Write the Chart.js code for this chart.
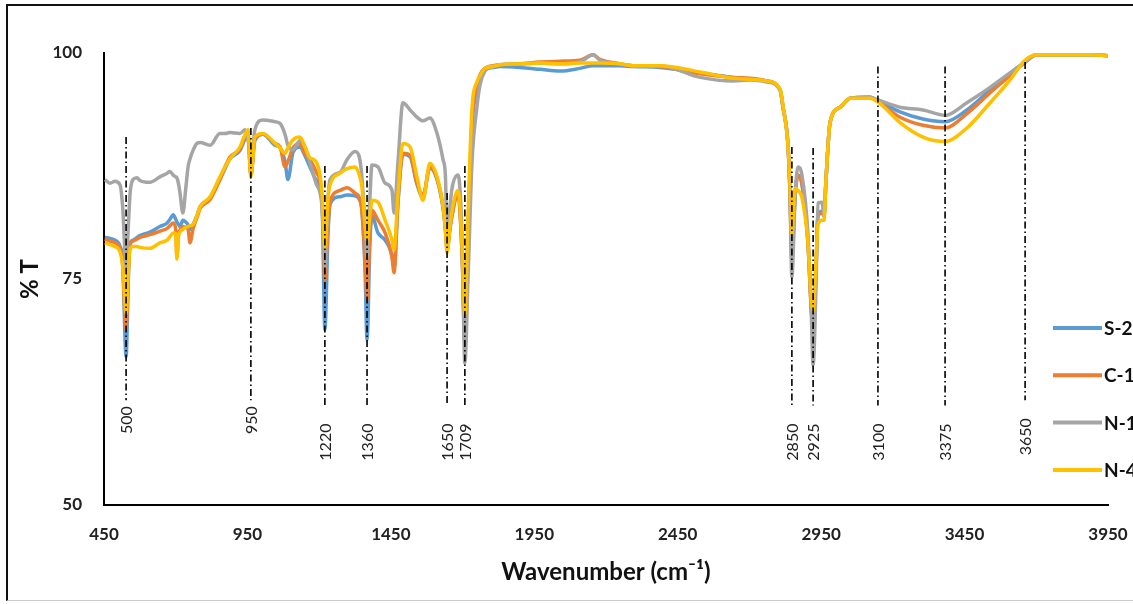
<!DOCTYPE html>
<html><head><meta charset="utf-8">
<script src="https://cdn.jsdelivr.net/npm/chart.js@4.4.0/dist/chart.umd.min.js"></script>
<style>
html,body{margin:0;padding:0;background:#fff;}
#wrap{position:relative;width:1133px;height:604px;overflow:hidden;background:#fff;}
#frame{position:absolute;left:6px;top:4px;width:1140px;height:594px;border-left:2px solid #111;border-top:2px solid #111;border-bottom:1px solid #ccc;pointer-events:none;}
canvas{position:absolute;left:0;top:0;}
</style></head><body>
<div id="wrap"><canvas id="c" width="1133" height="604"></canvas><div id="frame"></div></div>
<script>
// ---- data ----
const wavenumbers = [453,471,488,506,515,527,535,541,551,565,575,610,645,670,680,691,700,704,710,715,725,735,743,750,760,774,785,820,854,872,889,924,942,952,962,976,1004,1046,1064,1081,1091,1109,1133,1151,1168,1189,1210,1220,1231,1238,1273,1297,1325,1340,1349,1360,1367,1377,1384,1405,1430,1454,1461,1475,1492,1517,1541,1562,1586,1611,1632,1640,1646,1656,1663,1684,1698,1708,1719,1733,1750,1761,1778,1806,1830,1900,1970,2040,2109,2155,2179,2249,2294,2388,2528,2643,2702,2761,2807,2817,2834,2841,2848,2859,2869,2883,2904,2915,2922,2932,2939,2953,2960,2967,2981,3016,3051,3120,3148,3225,3305,3382,3458,3539,3608,3661,3702,3750,3818,3887,3950];

const S2 = [79.6,79.5,79.3,78.6,77.0,66.4,75.0,79.0,79.3,79.6,79.8,80.2,80.8,81.2,81.6,82.1,81.6,81.3,81.0,80.8,81.5,81.3,81.0,80.5,81.0,82.0,83.0,84.0,86.0,87.2,88.3,89.2,90.5,90.8,86.5,90.3,91.0,89.8,89.5,88.0,86.0,89.0,89.6,88.6,87.4,86.0,83.5,69.4,80.0,83.3,84.1,84.3,84.2,83.8,82.6,76.0,68.3,79.0,82.0,80.1,79.3,77.6,76.2,83.5,88.8,88.5,85.5,84.0,87.3,86.0,82.8,80.5,78.2,80.5,82.0,84.5,78.0,68.0,80.0,92.0,96.0,97.5,98.2,98.4,98.5,98.4,98.2,98.0,98.3,98.6,98.6,98.6,98.5,98.4,97.8,97.3,97.1,96.9,95.9,94.0,90.0,85.0,77.0,84.0,86.5,85.5,79.0,72.0,69.0,76.0,82.0,82.5,82.0,86.0,92.3,94.0,95.0,95.1,94.7,93.5,92.7,92.4,93.7,95.9,97.6,99.0,99.8,99.8,99.8,99.8,99.7];

const C1 = [79.4,79.2,79.0,78.4,76.5,69.4,76.0,78.8,79.2,79.4,79.6,79.9,80.3,80.6,80.9,81.2,80.5,77.5,80.0,80.4,80.8,80.7,80.5,79.0,80.5,81.8,82.8,83.8,86.0,87.4,88.5,89.4,90.8,91.0,86.5,90.5,91.0,90.0,89.6,87.4,88.0,89.5,90.0,88.8,88.2,86.9,84.0,74.9,81.0,83.5,84.8,85.1,84.5,84.0,82.6,77.0,72.7,80.0,82.6,81.5,80.1,77.4,75.7,83.7,88.9,88.7,85.6,84.3,87.4,86.1,83.0,80.8,78.5,80.6,82.0,84.6,78.0,69.0,80.0,92.5,96.2,97.6,98.3,98.6,98.7,98.8,99.0,99.1,99.2,99.8,99.3,98.8,98.6,98.5,97.7,97.3,97.2,96.9,95.9,94.0,90.0,85.0,78.0,84.0,86.5,85.5,79.0,72.0,70.0,76.0,82.0,82.3,82.0,86.0,92.3,94.0,95.0,95.1,94.6,92.9,92.0,91.7,93.3,95.6,97.5,99.0,99.8,99.8,99.8,99.8,99.7];

const N1 = [86.0,85.6,85.8,85.4,83.0,76.5,81.0,84.5,86.0,86.2,85.9,85.7,86.3,86.7,86.9,86.5,86.3,86.2,85.5,84.5,82.3,85.0,87.4,88.3,89.2,90.0,90.1,89.8,91.1,91.1,91.2,91.1,91.5,90.5,88.0,91.5,92.6,92.4,92.2,91.0,89.8,89.3,90.3,89.6,87.8,85.6,83.0,76.3,84.0,86.0,86.8,88.2,89.1,88.5,86.3,81.0,77.4,84.0,87.6,87.4,85.6,84.8,82.3,88.0,94.5,93.7,92.9,92.5,92.8,91.1,88.2,86.5,80.0,83.0,85.0,86.5,80.0,65.7,75.0,88.0,94.0,96.5,98.0,98.5,98.7,98.8,98.9,98.8,99.0,99.8,99.2,98.8,98.6,98.6,97.3,96.9,97.0,96.8,95.9,94.0,90.0,85.0,75.2,84.0,87.4,86.5,80.0,72.0,65.5,74.0,83.4,83.5,82.0,86.0,92.3,94.0,95.0,95.1,94.8,94.0,93.7,93.1,94.5,96.2,97.8,99.0,99.8,99.8,99.8,99.8,99.7];

const N4 = [79.0,78.8,78.6,78.0,76.5,71.2,76.0,78.4,78.6,78.6,78.5,78.4,79.0,79.3,79.7,80.1,80.0,77.2,79.8,80.2,80.5,80.7,80.8,80.9,81.0,82.0,83.0,84.1,86.3,87.4,88.3,89.6,91.0,91.5,86.3,90.7,91.1,90.0,89.5,88.9,89.5,90.4,90.7,89.6,88.4,88.0,84.5,78.5,84.0,85.4,86.7,87.2,87.4,86.5,85.2,81.0,79.3,82.0,83.7,83.5,81.5,79.3,78.2,84.5,90.0,89.6,86.3,83.7,87.8,86.3,83.0,80.5,77.9,80.8,82.5,84.8,79.0,71.0,82.0,94.0,96.8,97.5,98.3,98.5,98.7,98.8,98.9,98.8,98.9,98.9,98.9,98.8,98.6,98.6,97.9,97.2,97.1,96.9,96.0,94.2,90.0,86.0,80.0,85.0,84.8,84.0,79.0,73.0,71.5,77.0,81.0,81.5,81.5,86.0,92.3,94.0,95.0,95.0,94.6,92.3,90.7,90.2,91.7,94.5,97.0,99.2,99.8,99.8,99.8,99.8,99.7];

const seriesNames = ['S-2','C-1','N-1','N-4'];
const seriesValues = [S2, C1, N1, N4];
const seriesColors = ['#5B9BD5','#ED7D31','#A5A5A5','#FFC000'];

// peak marker lines: position on the axis, label, top and bottom (%T)
const markerPositions = [527, 962, 1220, 1367, 1646, 1708, 2848, 2922, 3148, 3382, 3661];
const markerLabels    = ['500','950','1220','1360','1650','1709','2850','2925','3100','3375','3650'];
const markerTops      = [90.7, 91.7, 87.5, 87.5, 84.5, 87.5, 89.6, 89.5, 98.5, 98.5, 99.0];
const markerBottoms   = [61.6, 61.6, 61.0, 61.0, 61.0, 61.0, 61.0, 61.0, 61.0, 61.0, 61.6];

const xTickValues = [450, 950, 1450, 1950, 2450, 2950, 3450, 3950];
const yTickValues = [50, 75, 100];

// ---- build datasets ----
const datasets = [];
seriesNames.forEach((name, k) => {
  datasets.push({
    label: name,
    data: wavenumbers.map((w, i) => ({x: w, y: seriesValues[k][i]})),
    borderColor: seriesColors[k],
    backgroundColor: seriesColors[k],
    borderWidth: 3.5,
    pointRadius: 0,
    cubicInterpolationMode: 'monotone',
    order: 4 - k,
    isSpectrum: true
  });
});
markerPositions.forEach((p, i) => {
  datasets.push({
    label: 'marker ' + markerLabels[i],
    data: [{x: p, y: markerTops[i]}, {x: p, y: markerBottoms[i]}],
    borderColor: '#000',
    borderWidth: 1.6,
    borderDash: [7, 3, 1.5, 3],
    pointRadius: 0,
    order: 0
  });
});

const markerLabelPlugin = {
  id: 'markerLabels',
  afterDatasetsDraw(chart) {
    const ctx = chart.ctx, xs = chart.scales.x, ys = chart.scales.y;
    ctx.save();
    ctx.font = '16px Lato';
    ctx.fillStyle = '#222';
    ctx.textAlign = 'right';
    ctx.textBaseline = 'middle';
    markerPositions.forEach((p, i) => {
      const px = xs.getPixelForValue(p) + 1;
      const gap = markerLabels[i].length > 3 ? 18 : 6;
      const py = ys.getPixelForValue(markerBottoms[i]) + gap;
      ctx.save();
      ctx.translate(px, py);
      ctx.rotate(-Math.PI / 2);
      ctx.fillText(markerLabels[i], 0, 0);
      ctx.restore();
    });
    ctx.restore();
  }
};

const legendPlugin = {
  id: 'sideLegend',
  afterDraw(chart) {
    const ctx = chart.ctx;
    ctx.save();
    ctx.font = 'bold 19px Lato';
    ctx.textBaseline = 'middle';
    ctx.textAlign = 'left';
    chart.data.datasets.filter(d => d.isSpectrum).forEach((d, i) => {
      const y = 328 + i * 47.3;
      ctx.strokeStyle = d.borderColor;
      ctx.lineWidth = 4;
      ctx.beginPath();
      ctx.moveTo(1053, y);
      ctx.lineTo(1102, y);
      ctx.stroke();
      ctx.fillStyle = '#111';
      ctx.fillText(d.label, 1104, y + 1);
    });
    ctx.restore();
  }
};

new Chart(document.getElementById('c').getContext('2d'), {
  type: 'line',
  data: {datasets},
  options: {
    responsive: false,
    animation: false,
    layout: {padding: {left: 0, right: 25, top: 53, bottom: 0}},
    plugins: {legend: {display: false}, tooltip: {enabled: false}},
    scales: {
      x: {
        type: 'linear', min: 450, max: 3950,
        afterBuildTicks: s => { s.ticks = xTickValues.map(v => ({value: v})); },
        afterFit: s => { s.height = 99; s.paddingLeft = 0; s.paddingRight = 0; },
        grid: {display: false},
        border: {display: true, color: '#000', width: 2},
        ticks: {padding: 11, color: '#222', maxRotation: 0, autoSkip: false,
                callback: v => String(v),
                font: {family: 'Lato', size: 17, weight: 'bold'}},
        title: {display: true, text: 'Wavenumber (cm\u207B\u00B9)', color: '#111',
                font: {family: 'Lato', size: 24, weight: 'bold'}, padding: {top: 0, bottom: 17}}
      },
      y: {
        type: 'linear', min: 50, max: 100,
        afterBuildTicks: s => { s.ticks = yTickValues.map(v => ({value: v})); },
        afterFit: s => { s.width = 104; s.paddingTop = 0; s.paddingBottom = 0; },
        grid: {display: false},
        border: {display: true, color: '#000', width: 2},
        ticks: {padding: 14, color: '#222', callback: v => String(v),
                font: {family: 'Lato', size: 17, weight: 'bold'}},
        title: {display: true, text: '% T', color: '#111',
                font: {family: 'Lato', size: 24, weight: 'bold'}, padding: {top: 16, bottom: 0}}
      }
    }
  },
  plugins: [markerLabelPlugin, legendPlugin]
});
</script>
</body></html>
